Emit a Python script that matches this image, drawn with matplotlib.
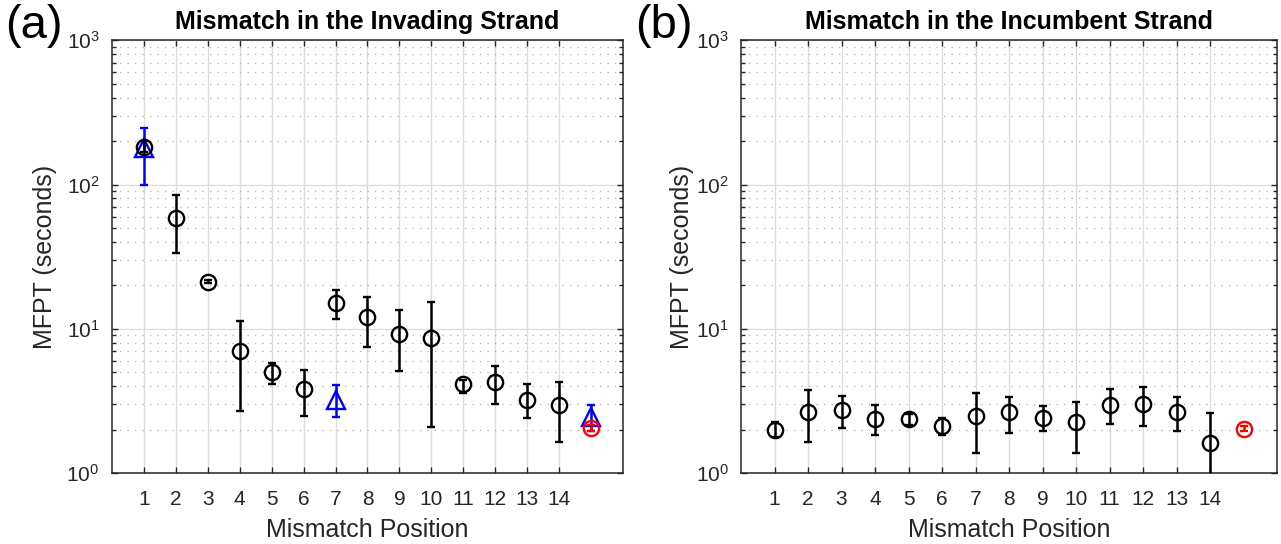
import numpy as np
import matplotlib
matplotlib.use("Agg")
import matplotlib.pyplot as plt
from matplotlib.ticker import LogLocator, NullFormatter, FixedLocator

plt.rcParams['font.family'] = ['Liberation Sans', 'DejaVu Sans']
plt.rcParams['mathtext.fontset'] = 'custom'
plt.rcParams['mathtext.rm'] = 'Liberation Sans'
plt.rcParams['mathtext.default'] = 'regular'

# ---- data ----
positions = np.arange(1, 15)
extra_pos = 15  # reference point placed right of position 14

# (a) mismatch in the invading strand
inv_mean = [183, 58.6, 21.2, 6.97, 5.03, 3.84, 15.0, 12.0, 9.14, 8.67, 4.13, 4.26, 3.22, 2.98]
inv_lo = [169, 33.3, 20.7, 2.71, 4.16, 2.47, 11.6, 7.43, 5.13, 2.10, 3.60, 3.02, 2.42, 1.63]
inv_hi = [200, 84.9, 21.8, 11.4, 5.80, 5.20, 18.5, 16.5, 13.5, 15.3, 4.40, 5.56, 4.11, 4.29]

blue_pos = [1, 7, 15]
blue_mean = [179, 3.22, 2.43]
blue_lo = [100, 2.44, 1.95]
blue_hi = [247, 4.09, 2.94]

red_a_mean, red_a_lo, red_a_hi = 2.05, 1.95, 2.15

# (b) mismatch in the incumbent strand
inc_mean = [2.00, 2.63, 2.72, 2.37, 2.37, 2.12, 2.50, 2.63, 2.42, 2.24, 2.96, 3.03, 2.63, 1.62]
inc_lo = [1.78, 1.64, 2.05, 1.84, 2.15, 1.84, 1.38, 1.90, 1.97, 1.37, 2.18, 2.13, 1.96, 0.80]
inc_hi = [2.26, 3.74, 3.41, 2.96, 2.56, 2.39, 3.60, 3.34, 2.91, 3.10, 3.80, 3.94, 3.38, 2.59]

red_b_mean, red_b_lo, red_b_hi = 2.03, 1.95, 2.12

titles = ["Mismatch in the Invading Strand", "Mismatch in the Incumbent Strand"]
panel_tags = ["(a)", "(b)"]

DARK = '#262626'


def yerr(mean, lo, hi):
    mean = np.atleast_1d(mean)
    return np.vstack([mean - np.atleast_1d(lo), np.atleast_1d(hi) - mean])


def style_axis(ax, title):
    ax.set_yscale('log')
    ax.set_ylim(1, 1000)
    ax.set_xlim(0, 16)
    ax.xaxis.set_major_locator(FixedLocator(positions))
    ax.set_xticklabels([str(p) for p in positions])
    ax.yaxis.set_major_locator(LogLocator(base=10, numticks=10))
    ax.yaxis.set_minor_locator(LogLocator(base=10, subs=np.arange(2, 10), numticks=20))
    ax.yaxis.set_minor_formatter(NullFormatter())

    ax.grid(True, which='major', color='#dcdcdc', lw=1.0, ls='-')
    ax.grid(True, which='minor', axis='y', color='#b0b0b0', lw=0.9, ls=(0, (1, 5)))
    ax.set_axisbelow(True)

    ax.tick_params(which='both', direction='in', top=True, right=True, colors=DARK, width=1.0)
    ax.tick_params(which='major', length=4, labelsize=15)
    ax.tick_params(axis='x', which='major', pad=12)
    ax.tick_params(axis='y', which='major', pad=9)
    ax.tick_params(which='minor', length=3)
    for sp in ax.spines.values():
        sp.set_color(DARK)
        sp.set_linewidth(1.1)

    ax.set_xlabel("Mismatch Position", fontsize=18, color=DARK)
    ax.set_ylabel("MFPT (seconds)", fontsize=18, color=DARK)
    ax.set_title(title, fontsize=18, fontweight='bold', pad=8)


fig = plt.figure(figsize=(12.81, 5.44), dpi=100)
ax_a = fig.add_axes([0.0874, 0.1305, 0.3989, 0.7955])
ax_b = fig.add_axes([0.5785, 0.1305, 0.4184, 0.7955])

err_kw = dict(ls='none', capsize=3, elinewidth=1.8, capthick=1.8, mew=1.7)

# panel (a)
ax_a.errorbar(blue_pos, blue_mean, yerr=yerr(blue_mean, blue_lo, blue_hi),
              marker='^', ms=13, mfc='none', mec='blue', color='blue', zorder=3, **err_kw)
ax_a.errorbar(positions, inv_mean, yerr=yerr(inv_mean, inv_lo, inv_hi),
              marker='o', ms=11, mfc='none', mec='black', color='black', zorder=4, **err_kw)
ax_a.errorbar([extra_pos], [red_a_mean], yerr=yerr(red_a_mean, red_a_lo, red_a_hi),
              marker='o', ms=11, mfc='none', mec='red', color='red', zorder=4, **err_kw)

# panel (b)
ax_b.errorbar(positions, inc_mean, yerr=yerr(inc_mean, inc_lo, inc_hi),
              marker='o', ms=11, mfc='none', mec='black', color='black', zorder=4, **err_kw)
ax_b.errorbar([extra_pos], [red_b_mean], yerr=yerr(red_b_mean, red_b_lo, red_b_hi),
              marker='o', ms=11, mfc='none', mec='red', color='red', zorder=4, **err_kw)

for ax, title in zip([ax_a, ax_b], titles):
    style_axis(ax, title)

ax_a.yaxis.set_label_coords(-0.108, 0.5)
ax_b.yaxis.set_label_coords(-0.088, 0.5)
ax_a.xaxis.set_label_coords(0.5, -0.105)
ax_b.xaxis.set_label_coords(0.5, -0.105)

fig.text(0.004, 0.952, panel_tags[0], fontsize=34, va='center', ha='left')
fig.text(0.496, 0.952, panel_tags[1], fontsize=34, va='center', ha='left')

fig.savefig("out.png", dpi=100)
